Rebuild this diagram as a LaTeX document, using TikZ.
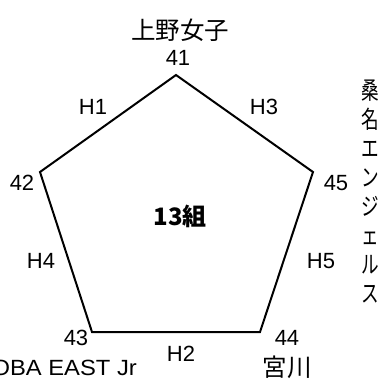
\documentclass[tikz,border=0pt]{standalone}
\usepackage{fontspec}
\usepackage{graphicx}
\setmainfont{Liberation Sans}
\newfontfamily\jp{Noto Sans CJK JP}
\newcommand{\vch}[1]{\scalebox{0.8}[1.1]{#1}}
\begin{document}
\begin{tikzpicture}[x=1bp,y=-1bp,
  lat/.style={font=\fontsize{22bp}{25bp}\selectfont, inner sep=0pt},
  jpl/.style={font=\jp\fontsize{24.5bp}{27bp}\selectfont, inner sep=0pt},
  edge/.style={line width=2bp, line join=miter}]
\useasboundingbox (0,0) rectangle (386,382);
\coordinate (v41) at (176,75);
\coordinate (v42) at (40,172);
\coordinate (v45) at (313,172);
\coordinate (v43) at (92,332);
\coordinate (v44) at (260,332);
\draw[edge] (v41) -- (v45) -- (v44) -- (v43) -- (v42) -- cycle;
\node[jpl] (t41) at (180,30) {上野女子};
\node[lat] (n41) at (178,58) {41};
\node[lat] (h1) at (93,107) {H1};
\node[lat] (h3) at (264,107) {H3};
\node[lat] (n42) at (22,183) {42};
\node[lat] (n45) at (336,183) {45};
\node[jpl, font=\jp\bfseries\fontsize{24bp}{27bp}\selectfont] (grp) at (180,216) {13組};
\node[lat] (h4) at (41,261) {H4};
\node[lat] (h5) at (321,261) {H5};
\node[lat] (n43) at (76,338) {43};
\node[lat] (h2) at (181,354) {H2};
\node[lat] (n44) at (287,338) {44};
\node[jpl] (t44) at (287,367) {宮川};
\node[lat, anchor=east] (t43) at (137,368) {\scalebox{1.08}[1]{OBA EAST Jr}};
\node[jpl, align=center, font=\jp\fontsize{22bp}{29bp}\selectfont] (t45) at (370,192)
  {\vch{桑}\\\vch{名}\\\vch{エ}\\\vch{ン}\\\vch{ジ}\\\vch{ェ}\\\vch{ル}\\\vch{ス}};
\end{tikzpicture}
\end{document}
